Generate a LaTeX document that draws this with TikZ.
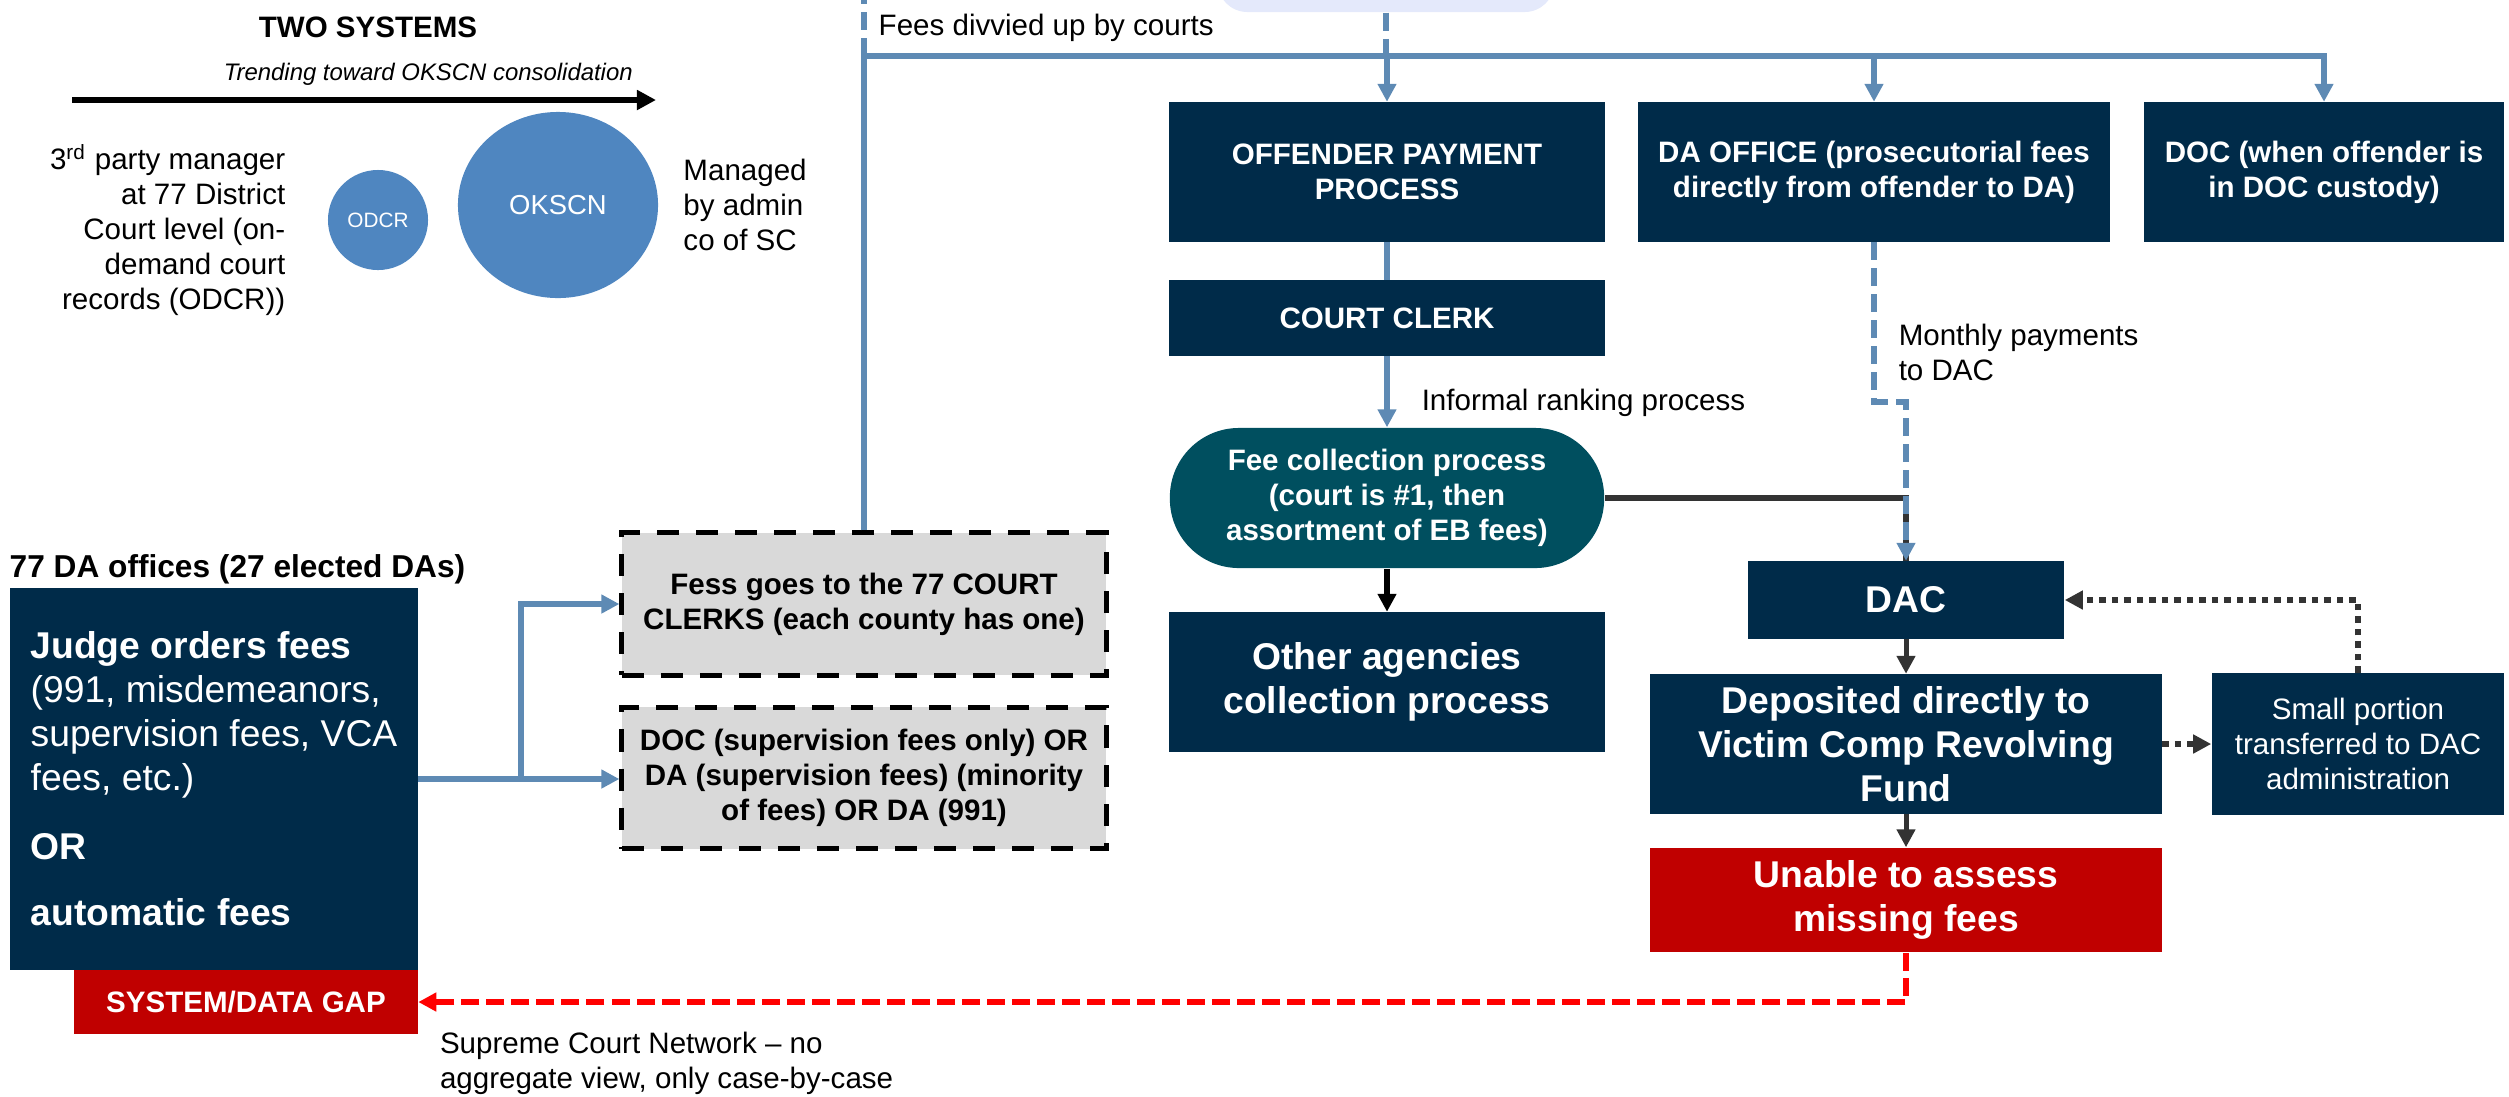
\documentclass[tikz,border=0pt]{standalone}
\usepackage{fontspec}
\setmainfont{Liberation Sans}
\definecolor{navy}{RGB}{0, 43, 73}
\definecolor{feeteal}{RGB}{0, 79, 95}
\definecolor{linkblue}{RGB}{94, 138, 180}
\definecolor{bubbleblue}{RGB}{79, 134, 192}
\definecolor{gapred}{RGB}{192, 0, 0}
\definecolor{dashred}{RGB}{255, 0, 0}
\definecolor{boxgrey}{RGB}{217, 217, 217}
\definecolor{srclavender}{RGB}{228, 233, 251}
\definecolor{darkline}{RGB}{51, 51, 51}
\usetikzlibrary{arrows.meta, shapes.geometric, positioning, calc}
\newcommand{\normtxt}{\fontsize{8.4}{10}\selectfont}
\newcommand{\bigtxt}{\fontsize{10.6}{12.5}\selectfont}

\begin{document}
\begin{tikzpicture}[x=0.01cm, y=-0.01cm, >={Triangle[length=0.18cm,width=0.18cm]},
	navybox/.style={fill=navy, text=white, font=\normtxt\bfseries, align=center, inner sep=0pt},
	bigbox/.style={navybox, font=\bigtxt\bfseries},
	dashbox/.style={fill=boxgrey, draw=black, line width=0.05cm, dash pattern=on 0.22cm off 0.17cm,
		font=\normtxt\bfseries, align=center, minimum width=4.84cm, minimum height=1.42cm},
	bubble/.style={ellipse, fill=bubbleblue, text=white, inner sep=0pt},
	bluelink/.style={draw=linkblue, line width=0.06cm},
	bluedash/.style={bluelink, dash pattern=on 0.18cm off 0.08cm},
	greylink/.style={draw=darkline, line width=0.05cm},
	dotlink/.style={draw=darkline, line width=0.06cm, dash pattern=on 0.065cm off 0.06cm},
	reddash/.style={draw=dashred, line width=0.06cm, dash pattern=on 0.18cm off 0.07cm}]
				\useasboundingbox (0,0) rectangle (2509,1096);
				\clip (0,0) rectangle (2509,1096);
				
				% two systems
				\node[font=\normtxt\bfseries] (title) at (368,27) {TWO SYSTEMS};
				\coordinate (trendL) at (72,100);
				\coordinate (trendR) at (656,100);
				\draw[line width=0.06cm, -{Triangle[length=0.19cm,width=0.19cm]}] (trendL) -- (trendR)
					node[pos=0.61, above, font=\fontsize{6.8}{8}\selectfont\itshape] {Trending toward OKSCN consolidation};
				\node[bubble, minimum size=1.0cm, font=\fontsize{5.9}{7}\selectfont] (odcr) at (378,220) {ODCR};
				\node[bubble, minimum width=2.0cm, minimum height=1.86cm, font=\fontsize{7.8}{9}\selectfont] (okscn) at (558,205) {OKSCN};
				\node[font=\normtxt, inner sep=0pt, align=right, anchor=east] (odcrnote) at (286,230)
					{3\textsuperscript{rd} party manager\\at 77 District\\Court level (on-\\demand court\\records (ODCR))};
				\node[font=\normtxt, inner sep=0pt, align=left, right=0.24cm of okscn] (okscnnote) {Managed\\by admin\\co of SC};
				
				\node[fill=srclavender, minimum width=3.37cm, minimum height=0.9cm, rounded corners=0.3cm] (src) at (1386,-33) {};
				\coordinate (busL) at (864,56);
				\coordinate (stub) at (864,0);
				
				\node[navybox, minimum width=4.36cm, minimum height=1.39cm] (offender) at (1387,172) {OFFENDER PAYMENT\\PROCESS};
				\node[navybox, minimum width=4.71cm, minimum height=1.39cm] (daoffice) at (1874,172) {DA OFFICE (prosecutorial fees\\directly from offender to DA)};
				\node[navybox, minimum width=3.6cm, minimum height=1.39cm] (docoffice) at (2324,172) {DOC (when offender is\\in DOC custody)};
				\node[navybox, minimum width=4.36cm, minimum height=0.75cm] (clerk) at (1387,318) {COURT CLERK};
				\node[navybox, fill=feeteal, minimum width=4.34cm, minimum height=1.4cm, rounded corners=0.69cm] (feecoll) at (1387,498)
					{Fee collection process\\(court is \#1, then\\assortment of EB fees)};
				\node[bigbox, minimum width=4.36cm, minimum height=1.39cm] (other) at (1387,682) {Other agencies\\collection process};
				\node[bigbox, minimum width=3.16cm, minimum height=0.77cm] (dac) at (1906,600) {DAC};
				\node[bigbox, minimum width=5.11cm, minimum height=1.39cm] (deposit) at (1906,744) {Deposited directly to\\Victim Comp Revolving\\Fund};
				\node[navybox, font=\normtxt, minimum width=2.92cm, minimum height=1.41cm] (portion) at (2358,744)
					{Small portion\\transferred to DAC\\administration};
				\node[bigbox, fill=gapred, minimum width=5.11cm, minimum height=1.04cm] (unable) at (1906,900) {Unable to assess\\missing fees};
				
				\node[anchor=west, inner sep=0pt, font=\fontsize{9}{11}\selectfont\bfseries] (dahead) at (9,569) {77 DA offices (27 elected DAs)};
				\node[navybox, font=\bigtxt, align=left, minimum width=4.07cm, minimum height=3.82cm] (judge) at (214,779)
					{\textbf{Judge orders fees}\\(991, misdemeanors,\\supervision fees, VCA\\fees, etc.)\\[0.25cm]\textbf{OR}\\[0.22cm]\textbf{automatic fees}};
				\node[navybox, fill=gapred, minimum width=3.43cm, minimum height=0.64cm] (sysgap) at (246,1002) {SYSTEM/DATA GAP};
				\node[dashbox] (clerks) at (864,604) {Fess goes to the 77 COURT\\CLERKS (each county has one)};
				\node[dashbox, minimum height=1.41cm] (docsup) at (864,778) {DOC (supervision fees only) OR\\DA (supervision fees) (minority\\of fees) OR DA (991)};
				
				\draw[bluedash] (src.south) -- (src.south |- busL);
				\draw[bluedash] (busL) -- (stub) node[pos=0.5, right, font=\normtxt] {Fees divvied up by courts};
				\draw[bluelink, ->] (clerks.north) |- (docoffice.north |- busL) -- (docoffice.north);
				\draw[bluelink, ->] (offender.north |- busL) -- (offender.north);
				\draw[bluelink, ->] (daoffice.north |- busL) -- (daoffice.north);
				\draw[bluelink] (offender) -- (clerk);
				\draw[bluelink, ->] (clerk) -- (feecoll) node[pos=0.65, right=0.2cm, font=\normtxt] {Informal ranking process};
				\draw[line width=0.06cm, ->] (feecoll) -- (other);
				\draw[greylink, line width=0.06cm] (feecoll.east) -| (dac.north);
				\draw[bluedash, ->] (daoffice.south) -- node[pos=0.69, right=0.1cm, font=\normtxt, align=left] {Monthly payments\\to DAC} ++(0,160) -| (dac.north);
				\draw[greylink, ->] (dac) -- (deposit);
				\draw[greylink, ->] (deposit) -- (unable);
				\draw[dotlink, ->] (deposit) -- (portion);
				\draw[dotlink, ->] (portion.north) |- (dac.east);
				
				\coordinate[right=1.03cm of judge.east] (split);
				\draw[bluelink] (judge.east) -- (split);
				\draw[bluelink, ->] (split) |- (clerks.west);
				\draw[bluelink, ->] (split) -- (split -| docsup.west);
				
				\draw[reddash, ->] (unable.south) |- (sysgap.east);
				\node[below right=0.29cm and 0.21cm of sysgap.east, font=\normtxt, align=left, inner sep=0pt] (scnnote)
					{Supreme Court Network -- no\\aggregate view, only case-by-case};
			\end{tikzpicture}
\end{document}
